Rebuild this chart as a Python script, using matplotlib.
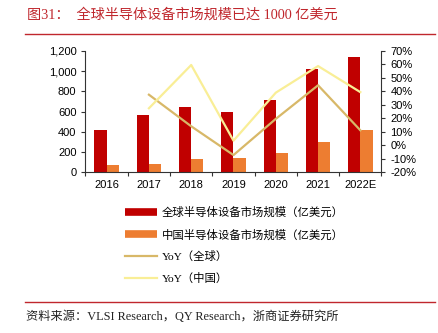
import matplotlib
matplotlib.use("Agg")
import matplotlib.pyplot as plt
from matplotlib.lines import Line2D
import numpy as np

plt.rcParams['font.family'] = ['Liberation Sans', 'Noto Sans CJK SC']

years = ["2016", "2017", "2018", "2019", "2020", "2021", "2022E"]
global_size = [412, 566, 645, 598, 712, 1026, 1140]
china_size = [65, 82, 131, 135, 187, 296, 418]
yoy_years = ["2017", "2018", "2019", "2020", "2021", "2022E"]
yoy_global = [37.5, 14.0, -7.4, 19.5, 44.5, 11.0]
yoy_china = [27.4, 59.6, 3.3, 39.0, 58.8, 39.4]

labels = ["全球半导体设备市场规模（亿美元）", "中国半导体设备市场规模（亿美元）",
          "YoY（全球）", "YoY（中国）"]
title = "图31：  全球半导体设备市场规模已达 1000 亿美元"
source = "资料来源：VLSI Research，QY Research，浙商证券研究所"

c_red = "#C00000"
c_orange = "#ED7D31"
c_tan = "#D8B868"
c_yellow = "#F9EE96"
c_title = "#C0272D"
serif_cjk = ['Liberation Serif', 'Noto Sans CJK SC']

W, H = 439, 333
fig = plt.figure(figsize=(W / 100, H / 100), dpi=100)
ax = fig.add_axes([85.5 / W, (H - 172) / H, 296 / W, 121 / H])
ax2 = ax.twinx()

x = np.arange(len(years))
bw = 0.29
ax.bar(x - bw / 2, global_size, bw, color=c_red, zorder=2)
ax.bar(x + bw / 2, china_size, bw, color=c_orange, zorder=2)

xl = [years.index(y) for y in yoy_years]
ax2.plot(xl, yoy_global, color=c_tan, lw=1.6, zorder=3)
ax2.plot(xl, yoy_china, color=c_yellow, lw=1.6, zorder=3)

ax.set_xlim(-0.5, len(years) - 0.5)
ax.set_ylim(0, 1200)
ax.set_yticks(np.arange(0, 1201, 200))
ax.set_yticklabels([f"{v:,}" for v in range(0, 1201, 200)])
ax2.set_ylim(-20, 70)
ax2.set_yticks(np.arange(-20, 71, 10))
ax2.set_yticklabels([f"{v}%" for v in range(-20, 71, 10)])

ax.set_xticks(np.arange(-0.5, len(years), 1.0))
ax.set_xticklabels([])
ax.set_xticks(x, minor=True)
ax.set_xticklabels(years, minor=True)
ax.tick_params(axis='x', which='major', length=3, width=0.8, color="#333333")
ax.tick_params(axis='x', which='minor', length=0, labelsize=8, pad=6)
ax.tick_params(axis='y', length=3, width=0.8, labelsize=8, color="#333333")
ax2.tick_params(axis='y', length=3, width=0.8, labelsize=8, color="#333333")

for a in (ax, ax2):
    a.spines['top'].set_visible(False)
    for s in ('left', 'right', 'bottom'):
        a.spines[s].set_linewidth(0.8)
        a.spines[s].set_color("#333333")
ax.spines['right'].set_visible(False)
ax2.spines['left'].set_visible(False)
ax2.spines['bottom'].set_visible(False)

handles = [
    Line2D([], [], color=c_red, lw=5.5, solid_capstyle='butt'),
    Line2D([], [], color=c_orange, lw=5.5, solid_capstyle='butt'),
    Line2D([], [], color=c_tan, lw=1.6),
    Line2D([], [], color=c_yellow, lw=1.6),
]
fig.legend(handles, labels, loc='upper left', bbox_to_anchor=(125 / W, 1 - 207 / H),
           frameon=False, handlelength=2.8, handletextpad=0.4,
           labelspacing=0.95, borderpad=0, borderaxespad=0,
           prop={'family': serif_cjk, 'size': 8.2})

fig.text(27 / W, 1 - 15 / H, title, color=c_title, fontsize=10.2, va='center', ha='left',
         family=serif_cjk)
fig.add_artist(Line2D([25 / W, 435 / W], [1 - 34 / H, 1 - 34 / H], color=c_title, lw=1.0))
fig.add_artist(Line2D([25 / W, 435 / W], [1 - 302 / H, 1 - 302 / H], color=c_title, lw=1.0))
fig.text(26 / W, 1 - 317 / H, source, color="#222222", fontsize=8.8, va='center', ha='left',
         family=serif_cjk)

fig.savefig("out.png", dpi=100)
